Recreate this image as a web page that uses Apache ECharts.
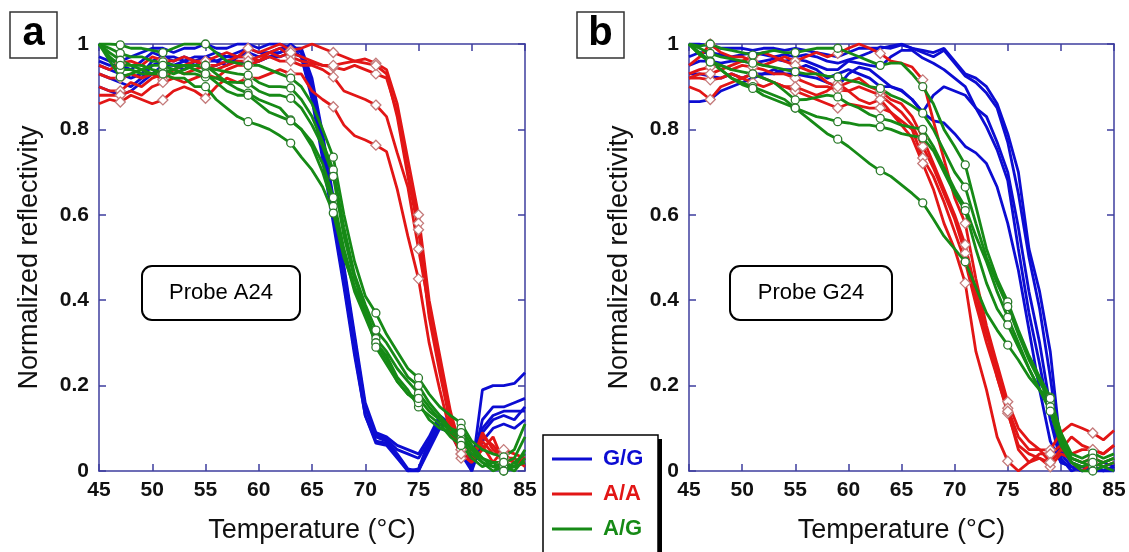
<!DOCTYPE html>
<html><head><meta charset="utf-8">
<script src="https://cdn.jsdelivr.net/npm/echarts/dist/echarts.min.js"></script>
<style>html,body{margin:0;padding:0;background:#fff}#c{width:1129px;height:552px}</style>
</head><body><div id="c"></div>
<script>
// ---------- DATA ----------
const temps = [45,46,47,48,49,50,51,52,53,54,55,56,57,58,59,60,61,62,63,64,65,66,67,68,69,70,71,72,73,74,75,76,77,78,79,80,81,82,83,84,85];
const markerTemps = [47,51,55,59,63,67,71,75,79,83];
const groupNames = ['G/G','A/A','A/G'];
const probeNames = ['Probe A24','Probe G24'];
const panelLetters = ['a','b'];

// Panel a (Probe A24)
const aGG1 = [.97,.96,.96,.97,.98,.99,.99,.98,.99,.99,1.0,.99,.99,1.0,1.0,.99,1.0,1.0,.99,.97,.88,.75,.60,.44,.28,.13,.07,.065,.035,0,.005,.07,.12,.10,.06,0,.19,.20,.20,.205,.23];
const aGG2 = [.96,.95,.95,.94,.96,.98,.97,.97,.96,.97,.97,.98,.97,.98,.99,.98,.98,.99,.99,.98,.90,.77,.62,.46,.30,.15,.08,.07,.04,.005,0,.06,.11,.10,.05,.01,.12,.15,.15,.16,.17];
const aGG3 = [.93,.92,.91,.90,.92,.95,.96,.95,.96,.95,.96,.96,.95,.97,.97,.96,.97,.98,.99,.99,.92,.79,.64,.48,.32,.16,.09,.08,.06,.05,.04,.08,.13,.11,.08,.03,.09,.12,.13,.12,.15];
const aGG4 = [.90,.89,.88,.89,.91,.93,.95,.95,.94,.96,.95,.95,.96,.96,.95,.96,.97,.97,.98,.97,.87,.73,.58,.43,.27,.13,.065,.06,.03,0,0,.05,.10,.09,.04,0,.07,.10,.11,.10,.12];
const aGG5 = [.95,.94,.93,.92,.93,.96,.97,.96,.97,.96,.97,.96,.97,.97,.98,.97,.98,.98,1.0,.98,.91,.78,.63,.47,.31,.15,.085,.075,.05,.04,.03,.07,.12,.10,.07,.02,.10,.13,.14,.14,.14];

const aAA1 = [.95,.94,.955,.96,.95,.97,.962,.96,.97,.96,.96,.97,.98,.97,.99,.98,.99,1.0,.985,.99,1.0,.99,.98,.97,.96,.965,.955,.94,.86,.73,.60,.40,.27,.14,.05,.03,.07,.04,.04,.02,.02];
const aAA2 = [.93,.92,.92,.93,.92,.93,.916,.94,.95,.96,.95,.95,.96,.97,.97,.96,.98,.99,.97,.96,.955,.95,.946,.94,.95,.94,.93,.92,.84,.70,.58,.37,.24,.12,.04,.02,.09,.05,.03,.03,.01];
const aAA3 = [.90,.89,.89,.91,.90,.92,.93,.94,.93,.94,.95,.94,.95,.96,.96,.97,.98,.97,.98,.97,.96,.95,.95,.955,.96,.955,.95,.93,.83,.69,.565,.36,.23,.11,.03,.05,.06,.02,.05,.04,.03];
const aAA4 = [.88,.88,.88,.89,.88,.90,.91,.92,.91,.92,.93,.92,.94,.95,.95,.96,.97,.96,.96,.95,.95,.94,.923,.89,.88,.87,.857,.83,.745,.665,.52,.38,.25,.12,.05,.03,.08,.06,.03,.02,.03];
const aAA5 = [.86,.87,.864,.88,.87,.86,.869,.89,.90,.89,.873,.90,.92,.91,.92,.92,.93,.94,.93,.93,.89,.87,.853,.81,.785,.775,.763,.748,.66,.55,.45,.30,.19,.09,.04,.02,.05,.08,.02,.01,.02];

const aAG1 = [1.0,1.0,.998,.99,.99,.985,.98,.99,1.0,1.0,1.0,.98,.96,.955,.95,.95,.94,.93,.92,.90,.86,.80,.735,.60,.49,.41,.37,.32,.28,.24,.218,.18,.15,.13,.112,.07,.05,.04,.033,.05,.11];
const aAG2 = [1.0,.99,.978,.97,.97,.96,.958,.95,.95,.95,.946,.94,.935,.93,.927,.91,.90,.90,.897,.87,.83,.77,.705,.57,.46,.39,.33,.30,.26,.22,.20,.16,.13,.10,.077,.05,.02,.01,.02,.01,.05];
const aAG3 = [1.0,.98,.962,.95,.95,.94,.934,.94,.93,.93,.923,.92,.91,.91,.908,.89,.88,.88,.873,.85,.81,.76,.69,.55,.45,.38,.31,.28,.24,.21,.182,.15,.12,.09,.07,.04,.02,0,.01,0,.03];
const aAG4 = [1.0,.97,.94,.94,.93,.93,.94,.93,.94,.95,.95,.93,.91,.895,.885,.87,.86,.85,.822,.80,.77,.72,.64,.52,.43,.37,.30,.27,.22,.19,.15,.13,.11,.08,.06,.03,.01,.02,0,.01,.02];
const aAG5 = [1.0,.96,.923,.93,.94,.95,.95,.94,.95,.94,.93,.91,.89,.88,.88,.86,.84,.83,.82,.80,.76,.70,.62,.51,.42,.36,.30,.26,.21,.18,.16,.12,.10,.09,.10,.06,.03,.02,.02,.03,.08];
const aAG6 = [1.0,.97,.95,.95,.94,.93,.93,.92,.92,.90,.90,.87,.85,.83,.818,.81,.80,.785,.768,.735,.705,.665,.604,.50,.43,.38,.29,.25,.21,.18,.17,.14,.12,.10,.09,.05,.03,.01,0,.02,.04];

// Panel b (Probe G24)
const bGG1 = [.865,.865,.87,.89,.90,.91,.92,.93,.93,.94,.94,.95,.94,.92,.93,.94,.93,.92,.90,.90,.89,.87,.84,.82,.815,.79,.76,.745,.72,.665,.58,.47,.33,.19,.07,.02,.01,0,.01,0,.01];
const bGG2 = [1.0,1.0,.995,.99,.99,.99,.985,.99,.99,.985,.99,.985,.98,.975,.97,.98,.99,.99,.99,.995,1.0,.99,.985,.98,.99,.96,.93,.92,.90,.86,.79,.70,.52,.42,.28,.05,.02,.01,0,.01,0];
const bGG3 = [.95,.96,.96,.955,.96,.96,.955,.96,.965,.96,.965,.96,.95,.94,.94,.96,.955,.95,.946,.97,.985,.985,.967,.955,.94,.92,.90,.85,.806,.752,.68,.52,.37,.25,.12,.02,.01,0,.01,.02,.01];
const bGG4 = [.93,.93,.925,.92,.93,.92,.93,.93,.94,.93,.93,.925,.92,.91,.90,.93,.946,.94,.92,.90,.892,.87,.84,.88,.90,.89,.88,.85,.83,.77,.70,.57,.42,.30,.15,.03,0,.01,0,0,.01];
const bGG5 = [.97,.98,.98,.975,.97,.975,.98,.975,.97,.975,.97,.975,.97,.96,.955,.963,.97,.98,.993,.99,.998,.99,.98,.97,.985,.955,.925,.91,.885,.85,.77,.65,.50,.38,.22,.04,.01,0,.01,0,0];

const bAA1 = [.95,.97,1.0,.98,.97,.97,.96,.95,.96,.97,.96,.97,.98,.97,.978,.99,1.0,.99,.978,.96,.955,.946,.916,.82,.73,.64,.58,.45,.34,.25,.162,.10,.07,.05,.049,.09,.11,.10,.089,.073,.095];
const bAA2 = [.93,.94,.946,.95,.94,.95,.946,.94,.93,.93,.92,.91,.90,.90,.892,.89,.90,.89,.88,.86,.84,.81,.76,.71,.65,.59,.51,.40,.32,.24,.147,.08,.05,.05,.02,.05,.08,.06,.05,.04,.06];
const bAA3 = [.92,.92,.916,.92,.93,.92,.91,.90,.91,.90,.89,.88,.87,.86,.85,.86,.855,.85,.85,.84,.82,.80,.733,.69,.63,.56,.49,.39,.30,.22,.135,.06,.04,.03,.01,.04,.03,.02,.03,.02,.03];
const bAA4 = [.90,.89,.87,.90,.91,.92,.93,.92,.91,.90,.90,.89,.88,.89,.908,.89,.87,.86,.87,.84,.81,.78,.72,.66,.58,.52,.44,.28,.19,.08,.023,0,.02,.04,.04,.06,.02,0,.02,.01,.02];
const bAA5 = [.92,.93,.93,.94,.95,.96,.97,.98,.97,.96,.95,.94,.93,.91,.90,.91,.92,.90,.89,.87,.86,.83,.78,.72,.66,.60,.53,.42,.33,.22,.14,.05,.02,.03,.02,.05,.04,.05,.05,.04,.06];

const bAG1 = [1.0,.995,1.0,.99,.985,.98,.974,.98,.985,.98,.98,.985,.99,.99,.99,.98,.97,.96,.95,.955,.955,.93,.90,.86,.80,.76,.717,.62,.52,.45,.396,.33,.27,.22,.173,.09,.04,.03,.042,.03,.04];
const bAG2 = [1.0,.99,.978,.97,.965,.96,.955,.95,.945,.94,.935,.93,.93,.925,.923,.915,.91,.90,.896,.88,.87,.855,.838,.80,.75,.70,.665,.58,.50,.44,.385,.32,.26,.21,.16,.08,.03,.02,.03,.02,.03];
const bAG3 = [1.0,.98,.96,.95,.94,.935,.93,.92,.91,.89,.869,.87,.875,.88,.876,.86,.85,.835,.826,.82,.81,.805,.80,.76,.71,.66,.618,.55,.49,.42,.36,.30,.24,.19,.15,.07,.03,.02,.01,.02,.03];
const bAG4 = [1.0,.975,.958,.94,.92,.91,.90,.89,.88,.87,.85,.84,.83,.825,.818,.815,.81,.81,.806,.80,.79,.785,.78,.75,.70,.65,.61,.52,.44,.38,.342,.29,.24,.19,.14,.06,.02,.01,.02,.01,.02];
const bAG5 = [1.0,.975,.958,.94,.92,.905,.896,.88,.87,.86,.85,.83,.81,.79,.777,.76,.74,.72,.703,.69,.67,.65,.628,.59,.55,.52,.49,.43,.37,.33,.295,.26,.22,.19,.17,.09,.02,0,0,.01,0];

const panelA = {GG:[aGG1,aGG2,aGG3,aGG4,aGG5], AA:[aAA1,aAA2,aAA3,aAA4,aAA5], AG:[aAG1,aAG2,aAG3,aAG4,aAG5,aAG6]};
const panelB = {GG:[bGG1,bGG2,bGG3,bGG4,bGG5], AA:[bAA1,bAA2,bAA3,bAA4,bAA5], AG:[bAG1,bAG2,bAG3,bAG4,bAG5]};

// ---------- STYLE ----------
const BLUE='#0c0cd2', RED='#e21616', GREEN='#168a16';
const AXIS='#3e3e9e';
const FONT="'Liberation Sans', Arial, Helvetica, sans-serif";
const grids = [{left:99, top:44, width:426, height:427},{left:689, top:44, width:425, height:427}];

function mkLine(name, vals, gi, color, symbol, mColor, mSize){
  return {
    type:'line', name, xAxisIndex:gi*2, yAxisIndex:gi*2,
    data: temps.map((t,i)=>[t, vals[i]]),
    lineStyle:{color, width:2.8},
    symbol: symbol || 'none', showSymbol: !!symbol, showAllSymbol:true,
    symbolSize: (v)=> markerTemps.indexOf(v[0])>=0 ? mSize : 0,
    itemStyle:{color:'#ffffff', borderColor:mColor||color, borderWidth:1.3},
    emphasis:{disabled:true}, silent:true, animation:false
  };
}
const series=[];
[panelA,panelB].forEach((p,gi)=>{
  p.GG.forEach(v=>series.push(mkLine('G/G', v, gi, BLUE, null)));
  p.AA.forEach(v=>series.push(mkLine('A/A', v, gi, RED, 'diamond', '#c47a7a', 10)));
  p.AG.forEach(v=>series.push(mkLine('A/G', v, gi, GREEN, 'circle', '#2a7a2a', 8)));
});

function xAx(gi,pos){
  return {type:'value', gridIndex:gi, position:pos, min:45, max:85, interval:5,
    axisLine:{show:true, onZero:false, lineStyle:{color:AXIS, width:1.5}},
    axisTick:{show:true, inside:true, length:7, lineStyle:{color:AXIS, width:1.5}},
    axisLabel:{show:pos==='bottom', color:'#111', fontSize:21, fontWeight:'bold', fontFamily:FONT, margin:9, showMinLabel:true, showMaxLabel:true},
    splitLine:{show:false},
    name: pos==='bottom' ? 'Temperature (\u00B0C)' : '', nameLocation:'middle', nameGap:46,
    nameTextStyle:{fontSize:27, color:'#111', fontFamily:FONT}};
}
function yAx(gi,pos){
  return {type:'value', gridIndex:gi, position:pos, min:0, max:1, interval:0.2,
    axisLine:{show:true, onZero:false, lineStyle:{color:AXIS, width:1.5}},
    axisTick:{show:true, inside:true, length:7, lineStyle:{color:AXIS, width:1.5}},
    axisLabel:{show:pos==='left', color:'#111', fontSize:21, fontWeight:'bold', fontFamily:FONT, margin:10, showMinLabel:true, showMaxLabel:true},
    splitLine:{show:false},
    name: pos==='left' ? 'Normalized reflectivity' : '', nameLocation:'middle', nameGap:56,
    nameTextStyle:{fontSize:27, color:'#111', fontFamily:FONT}};
}

const graphic=[];
// panel letter boxes
[[10,12],[577,12]].forEach((p,i)=>{
  graphic.push({type:'rect', shape:{x:p[0],y:p[1],width:47,height:46}, style:{fill:'#fff', stroke:'#333', lineWidth:1.5}, z:10});
  graphic.push({type:'text', x:p[0]+23.5, y:p[1]+22, style:{text:panelLetters[i], fontSize:40, fontWeight:'bold', fontFamily:FONT, fill:'#000', align:'center', verticalAlign:'middle', textAlign:'center', textVerticalAlign:'middle'}, z:11});
});
// probe boxes
[[142,266,158],[730,266,162]].forEach((p,i)=>{
  graphic.push({type:'rect', shape:{x:p[0],y:p[1],width:p[2],height:54,r:10}, style:{fill:'#fff', stroke:'#000', lineWidth:2}, z:10});
  graphic.push({type:'text', x:p[0]+p[2]/2, y:p[1]+27, style:{text:probeNames[i], fontSize:22, fontFamily:FONT, fill:'#000', align:'center', verticalAlign:'middle', textAlign:'center', textVerticalAlign:'middle'}, z:11});
});
// legend box with hard shadow on the right
graphic.push({type:'rect', shape:{x:547,y:439,width:115,height:140}, style:{fill:'#000'}, z:10});
graphic.push({type:'rect', shape:{x:543,y:435,width:115,height:140}, style:{fill:'#fff', stroke:'#000', lineWidth:1.5}, z:11});

const option = {
  backgroundColor:'#fff',
  animation:false,
  grid: grids.map(g=>Object.assign({containLabel:false, outerBoundsMode:'none'}, g)),
  xAxis:[xAx(0,'bottom'), xAx(0,'top'), xAx(1,'bottom'), xAx(1,'top')],
  yAxis:[yAx(0,'left'), yAx(0,'right'), yAx(1,'left'), yAx(1,'right')],
  legend:{left:552, top:448, orient:'vertical', icon:'rect', itemWidth:40, itemHeight:3, itemGap:13, padding:0,
    selectedMode:false, z:20,
    textStyle:{fontSize:22, fontWeight:'bold', fontFamily:FONT, padding:[0,0,0,6]},
    data:[
      {name:groupNames[0], itemStyle:{color:BLUE, borderWidth:0}, textStyle:{color:BLUE}},
      {name:groupNames[1], itemStyle:{color:RED, borderWidth:0}, textStyle:{color:RED}},
      {name:groupNames[2], itemStyle:{color:GREEN, borderWidth:0}, textStyle:{color:GREEN}}
    ]},
  graphic,
  series
};
const chart = echarts.init(document.getElementById('c'), null, {renderer:'canvas'});
chart.setOption(option);
</script>
</body></html>
